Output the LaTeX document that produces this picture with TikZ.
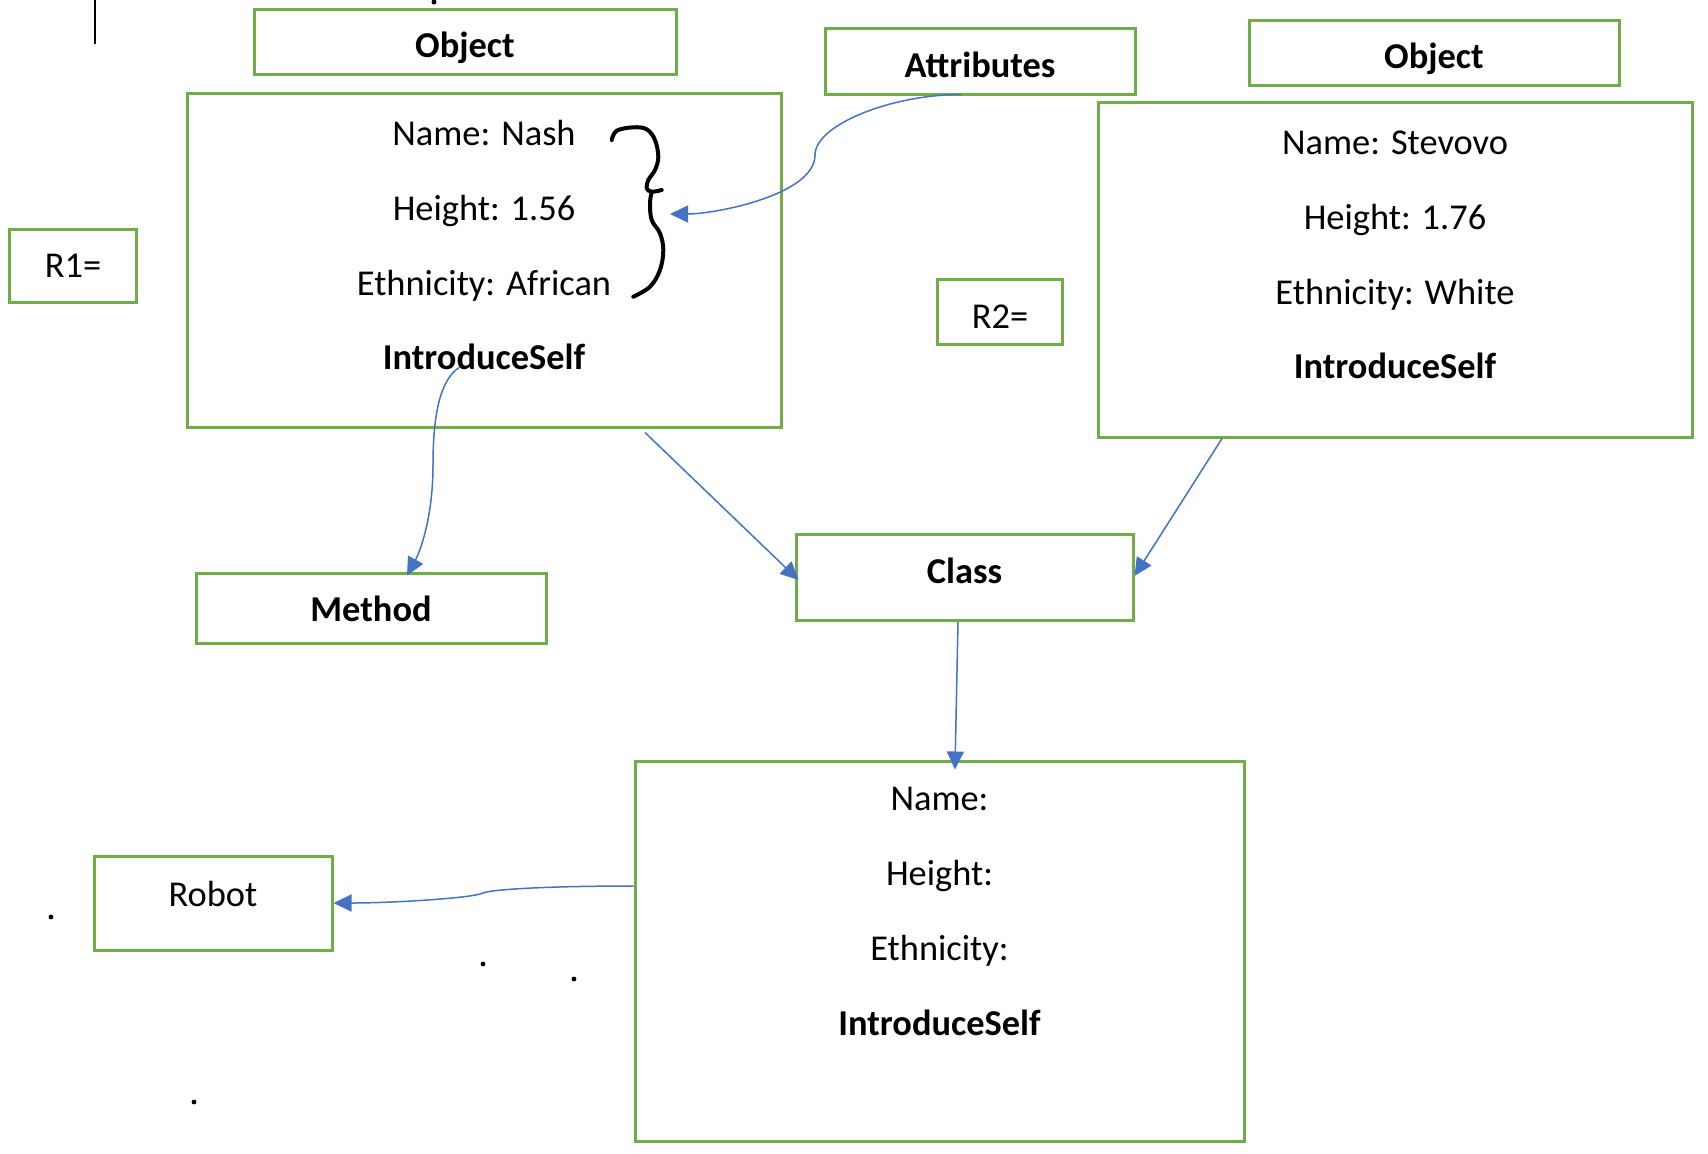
\documentclass[tikz,border=0pt]{standalone}
\usepackage{fontspec}
\setmainfont{Carlito}
\usetikzlibrary{arrows.meta,positioning}
\definecolor{boxgreen}{HTML}{70AD47}
\definecolor{arrowblue}{HTML}{4472C4}

\begin{document}
\begin{tikzpicture}[x=0.5pt,y=-0.5pt,
  every node/.style={inner sep=0pt},
  box/.style={draw=boxgreen,line width=1.5pt,rectangle},
  txt/.style={anchor=base,font=\fontsize{18.2}{22}\selectfont},
  btxt/.style={anchor=base,font=\fontsize{18.2}{22}\selectfont\bfseries},
  link/.style={draw=arrowblue,line width=0.75pt,-{Triangle[length=9pt,width=8.5pt]}}]
\useasboundingbox (0,0) rectangle (1708,1153);
\draw [black,line width=0.9pt] (95,0) -- (95,44);
\fill [black] (434,2) circle [radius=1.25pt];
\node [box,minimum width=211pt,minimum height=32.5pt] (objA) at (465,41.5) {};
\node [btxt] (objAtxt) at (465,57) {Object};
\node [box,minimum width=297pt,minimum height=167pt] (nash) at (484,260) {};
\node [txt] (nashname) at (484,145) {Name: Nash};
\node [txt] (nashheight) at (484,220) {Height: 1.56};
\node [txt] (nashethn) at (484,295) {Ethnicity: African};
\node [btxt] (nashintro) at (484,369) {IntroduceSelf};
\node [box,minimum width=155pt,minimum height=33pt] (attr) at (980,61) {};
\node [btxt] (attrtxt) at (980,77) {Attributes};
\node [box,minimum width=185pt,minimum height=32.5pt] (objB) at (1434,52.5) {};
\node [btxt] (objBtxt) at (1434,68) {Object};
\node [box,minimum width=297pt,minimum height=167.5pt] (stev) at (1395,269.5) {};
\node [txt] (stevname) at (1395,154) {Name: Stevovo};
\node [txt] (stevheight) at (1395,229) {Height: 1.76};
\node [txt] (stevethn) at (1395,304) {Ethnicity: White};
\node [btxt] (stevintro) at (1395,378) {IntroduceSelf};
\node [box,minimum width=63.5pt,minimum height=36.5pt] (rA) at (72.5,265.5) {};
\node [txt] (rAtxt) at (73,277) {R1=};
\node [box,minimum width=62.5pt,minimum height=32.5pt] (rB) at (999.5,311.5) {};
\node [txt] (rBtxt) at (1000,328) {R2=};
\node [box,minimum width=175pt,minimum height=35pt] (method) at (371,608) {};
\node [btxt] (methodtxt) at (371,621) {Method};
\node [box,minimum width=168.5pt,minimum height=43pt] (class) at (964.5,577) {};
\node [btxt] (classtxt) at (964.5,583) {Class};
\node [box,minimum width=304.5pt,minimum height=190pt] (tmpl) at (939.5,951) {};
\node [txt] (tmplname) at (939.5,810) {Name:};
\node [txt] (tmplheight) at (939.5,885) {Height:};
\node [txt] (tmplethn) at (939.5,960) {Ethnicity:};
\node [btxt] (tmplintro) at (939.5,1035) {IntroduceSelf};
\node [box,minimum width=119pt,minimum height=47pt] (robot) at (213,903) {};
\node [txt] (robottxt) at (213,906) {Robot};
\draw [black,line width=2pt,line cap=round,line join=round] plot [smooth,tension=0.6] coordinates {(611.7,140) (616.7,130.7) (633.3,127.3) (646.7,129.3) (655,140) (658.3,156.7) (655,170) (648.3,180) (646.7,188.3) (651.7,191.7) (661.7,190)};
\draw [black,line width=2pt,line cap=round,line join=round] plot [smooth,tension=0.6] coordinates {(651.7,192) (650,203.3) (651.7,220) (660,233.3) (663.3,250) (660,270) (650,286.7) (633.3,296.7)};
\coordinate (brace) at (670,214);
\coordinate (mstart) at ([xshift=-12pt,yshift=1pt]nashintro.base);
\draw [link] ([xshift=-9.5pt,yshift=0.5pt]attr.south) .. controls +(-70,0) and +(0,-30) .. (815,155) .. controls +(0,40) and +(45,0) .. (brace);
\draw [link] (mstart) .. controls +(-20,12) and +(0,-50) .. (433,465) .. controls +(0,55) and +(12,-22) .. ([xshift=18pt,yshift=-2pt]method.north);
\draw [link] ([xshift=80.5pt,yshift=-2pt]nash.south) -- ([xshift=2pt,yshift=-1.5pt]class.west);
\draw [link] ([xshift=-86.5pt]stev.south) -- ([yshift=0.5pt]class.east);
\draw [link] ([xshift=-3.25pt]class.south) -- ([xshift=7.75pt,yshift=-5pt]tmpl.north);
\draw [link] ([yshift=32.5pt]tmpl.west) .. controls +(-80,0) and +(10,-4) .. (483,893) .. controls +(-10,5) and +(60,0) .. ([yshift=0pt]robot.east);
\fill [black] (51,917) circle [radius=1.2pt];
\fill [black] (483,964) circle [radius=1.2pt];
\fill [black] (574,979) circle [radius=1.2pt];
\fill [black] (194,1102) circle [radius=1.2pt];
\end{tikzpicture}
\end{document}
